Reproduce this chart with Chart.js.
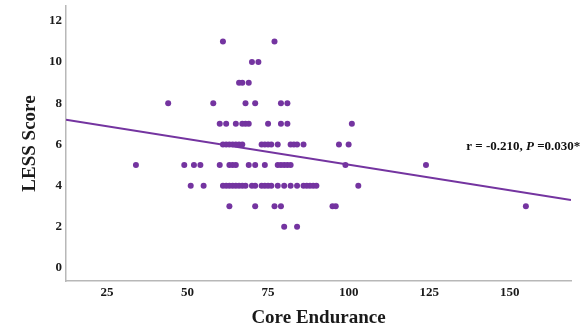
<!DOCTYPE html>
<html>
<head>
<meta charset="utf-8">
<script src="https://cdn.jsdelivr.net/npm/chart.js@4.4.0/dist/chart.umd.min.js"></script>
<style>
  html, body { margin: 0; padding: 0; background: #fff; }
  #wrap { width: 580px; height: 325px; }
</style>
</head>
<body>
<div id="wrap"><canvas id="scatter"></canvas></div>
<script>
// Core endurance values, grouped by LESS score
const score2 = [80, 84];
const score3 = [63, 71, 77, 79, 95, 96, 155];
const score4 = [51, 55, 61, 62, 63, 64, 65, 66, 67, 68, 70, 71, 73, 74, 75, 76, 78, 80, 82, 84, 86, 87, 88, 89, 90, 103];
const score5 = [34, 49, 52, 54, 60, 63, 64, 65, 69, 71, 74, 78, 79, 80, 81, 82, 99, 124];
const score6 = [61, 62, 63, 64, 65, 66, 67, 73, 74, 75, 76, 78, 82, 83, 84, 86, 97, 100];
const score7 = [60, 62, 65, 67, 68, 69, 75, 79, 81, 101];
const score8 = [44, 58, 68, 71, 79, 81];
const score9 = [66, 67, 69];
const score10 = [70, 72];
const score11 = [61, 77];

// fit line end points
const fitX = [12.3, 169];
const fitY = [7.2, 3.3];

const xTicks = [25, 50, 75, 100, 125, 150];
const yTicks = [0, 2, 4, 6, 8, 10, 12];

const statText = ['r = -0.210, ', 'P', ' =0.030*'];
const statX = 136.5, statY = 5.9;

const PURPLE = '#7434a0';
const SERIF = '"Liberation Serif", "DejaVu Serif", serif';

const rows = { 2: score2, 3: score3, 4: score4, 5: score5, 6: score6, 7: score7, 8: score8, 9: score9, 10: score10, 11: score11 };
const points = [];
Object.keys(rows).forEach(s => {
  rows[s].forEach(x => points.push({ x: x, y: Number(s) }));
});

// r / P label next to the fit line
const statLabel = {
  id: 'statLabel',
  afterDraw(chart) {
    const ctx = chart.ctx;
    let px = chart.scales.x.getPixelForValue(statX);
    const py = chart.scales.y.getPixelForValue(statY);
    ctx.save();
    ctx.fillStyle = '#111';
    ctx.textBaseline = 'middle';
    ctx.textAlign = 'left';
    statText.forEach((t, i) => {
      ctx.font = (i === 1 ? 'italic bold ' : 'bold ') + '13px ' + SERIF;
      ctx.fillText(t, px, py);
      px += ctx.measureText(t).width;
    });
    ctx.restore();
  }
};

function axisBase(title) {
  return {
    type: 'linear',
    grid: { display: false, drawTicks: false, tickLength: 0 },
    border: { display: true, color: '#b8b8b8', width: 1.5 },
    ticks: {
      color: '#1a1a1a',
      font: { family: SERIF, size: 13, weight: 'bold' }
    },
    title: {
      display: true,
      text: title,
      color: '#1a1a1a',
      font: { family: SERIF, size: 19, weight: 'bold', lineHeight: 1 }
    }
  };
}

const xOpts = axisBase('Core Endurance');
xOpts.min = 12.3;
xOpts.max = 169;
xOpts.ticks.padding = 4;
xOpts.title.font.lineHeight = 0.75;
xOpts.title.padding = { top: 0, bottom: 0 };
xOpts.afterBuildTicks = s => { s.ticks = xTicks.map(v => ({ value: v })); };
xOpts.afterFit = s => { s.height = 44; s.paddingLeft = 0; s.paddingRight = 0; };

const yOpts = axisBase('LESS Score');
yOpts.min = -0.63;
yOpts.max = 12.72;
yOpts.ticks.padding = 4;
yOpts.title.padding = { top: 21, bottom: 0 };
yOpts.afterBuildTicks = s => { s.ticks = yTicks.map(v => ({ value: v })); };
yOpts.afterFit = s => { s.width = 66; s.paddingTop = 0; s.paddingBottom = 0; };

new Chart(document.getElementById('scatter'), {
  type: 'scatter',
  data: {
    datasets: [
      {
        label: 'LESS',
        data: points,
        backgroundColor: PURPLE,
        borderWidth: 0,
        pointRadius: 3,
        pointHoverRadius: 3
      },
      {
        label: 'Fit',
        type: 'line',
        data: fitX.map((x, i) => ({ x: x, y: fitY[i] })),
        borderColor: PURPLE,
        borderWidth: 2,
        pointRadius: 0,
        fill: false
      }
    ]
  },
  options: {
    responsive: true,
    maintainAspectRatio: false,
    animation: false,
    layout: { padding: { top: 6, right: 9, bottom: 0, left: 0 } },
    scales: { x: xOpts, y: yOpts },
    plugins: {
      legend: { display: false },
      tooltip: { enabled: false }
    }
  },
  plugins: [statLabel]
});
</script>
</body>
</html>
